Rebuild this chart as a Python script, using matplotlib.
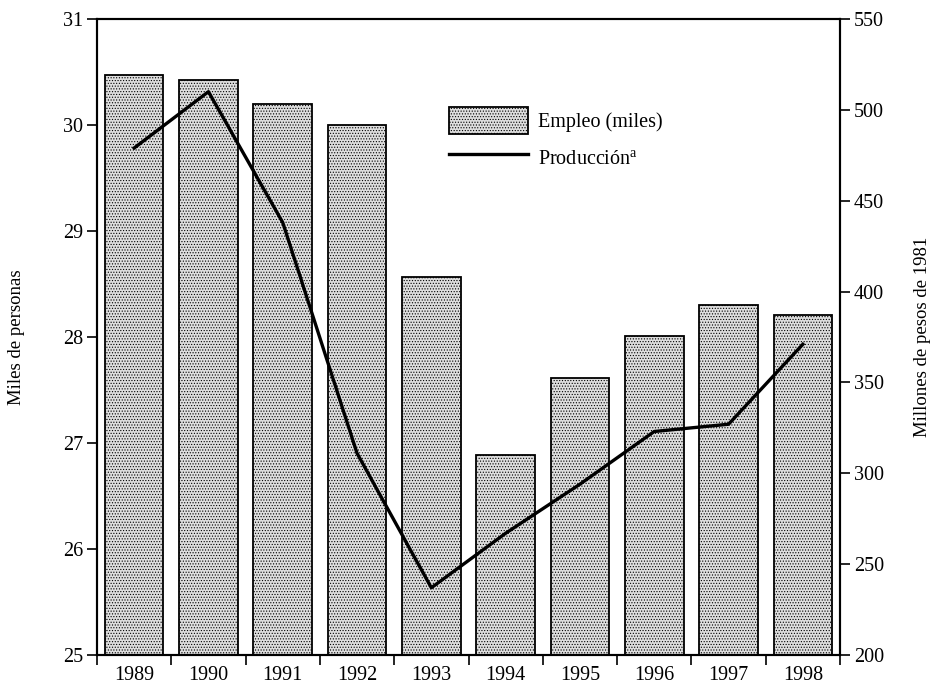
import matplotlib
matplotlib.use("Agg")
import matplotlib.pyplot as plt
from matplotlib.patches import Patch
from matplotlib.lines import Line2D
import numpy as np

years = ["1989", "1990", "1991", "1992", "1993", "1994", "1995", "1996", "1997", "1998"]
empleo = [30.47, 30.42, 30.2, 30.0, 28.57, 26.89, 27.61, 28.01, 28.3, 28.21]
produccion = [479, 510, 438, 311, 237, 267, 294, 323, 327, 371]

left_ticks = [25, 26, 27, 28, 29, 30, 31]
right_ticks = [200, 250, 300, 350, 400, 450, 500, 550]

plt.rcParams['font.family'] = ['Liberation Serif', 'DejaVu Serif']
plt.rcParams['mathtext.fontset'] = 'custom'
plt.rcParams['mathtext.rm'] = 'Liberation Serif'
plt.rcParams['hatch.color'] = '#ababab'
plt.rcParams['hatch.linewidth'] = 0.5

FS = 14.5
LFS = 13.5
fig = plt.figure(figsize=(9.34, 6.85), dpi=100)
ax = fig.add_axes([97/934, 30/685, 743/934, 636/685])
x = np.arange(len(years))

bar_color = '#dedede'
ax.bar(x, empleo, width=0.79, color=bar_color, edgecolor='black', linewidth=1.3,
       hatch='......', zorder=2)
ax.set_xlim(-0.5, len(years) - 0.5)
ax.set_ylim(left_ticks[0], left_ticks[-1])
ax.set_yticks(left_ticks)
ax.set_yticklabels([str(t) for t in left_ticks], fontsize=FS)
ax.set_xticks(x)
ax.set_xticklabels(years, fontsize=FS)
ax.tick_params(axis='x', which='major', length=0, pad=8)
ax.set_xticks(np.arange(-0.5, len(years), 1.0), minor=True)
ax.tick_params(axis='x', which='minor', length=7, width=1.2, direction='out')
ax.tick_params(axis='y', length=7, width=1.2, direction='out', pad=3)
for s in ax.spines.values():
    s.set_linewidth(1.5)
ax.set_ylabel('Miles de personas', fontsize=LFS)
ax.yaxis.set_label_coords(-0.097, 0.5)

ax2 = ax.twinx()
ax2.plot(x, produccion, color='black', linewidth=2.4, zorder=3)
ax2.set_ylim(right_ticks[0], right_ticks[-1])
ax2.set_yticks(right_ticks)
ax2.set_yticklabels([str(t) for t in right_ticks], fontsize=FS)
ax2.tick_params(axis='y', length=7, width=1.2, direction='out', pad=3)
for s in ax2.spines.values():
    s.set_linewidth(1.5)
ax2.set_ylabel('Millones de pesos de 1981', fontsize=LFS, rotation=90)
ax2.yaxis.set_label_coords(1 + 74/743, 0.5)

handles = [Patch(facecolor=bar_color, edgecolor='black', hatch='......', linewidth=1.3),
           Line2D([0], [0], color='black', linewidth=2.4)]
labels = ['Empleo (miles)', 'Producción$^{\\mathrm{a}}$']
leg = ax2.legend(handles, labels, loc='upper left', bbox_to_anchor=(433/934, 1 - 91/685),
                 bbox_transform=fig.transFigure, frameon=False, fontsize=FS,
                 handlelength=3.9, handleheight=1.7, handletextpad=0.5, labelspacing=0.5,
                 borderpad=0.3)

fig.savefig('out.png', dpi=100)
